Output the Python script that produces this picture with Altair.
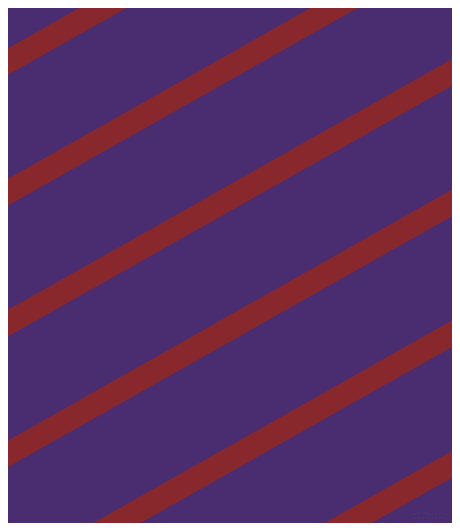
import altair as alt
import pandas as pd

# Stripe centre lines: y (px from top) where each stripe meets the left edge
stripe_y_at_left = [66.0, 196.7, 327.7, 458.3, 589.0, 719.7]
stripe_slope = 0.565          # rise per px of x (stripes go up to the right)
x_start, x_end = -40.0, 520.0

bg_color = "#4a2d71"
stripe_color = "#88282c"

rows = []
for i, y0 in enumerate(stripe_y_at_left):
    rows.append({
        "id": i,
        "x": x_start,
        "y": y0 - stripe_slope * x_start,
        "x2": x_end,
        "y2": y0 - stripe_slope * x_end,
    })
df = pd.DataFrame(rows)

xs = alt.Scale(domain=[8, 452], nice=False, zero=False)
ys = alt.Scale(domain=[8, 523], nice=False, zero=False, reverse=True)

stripes = alt.Chart(df).mark_rule(
    color=stripe_color, strokeWidth=23.2, strokeCap="butt", clip=True
).encode(
    x=alt.X("x:Q", scale=xs, axis=None),
    y=alt.Y("y:Q", scale=ys, axis=None),
    x2="x2:Q",
    y2="y2:Q",
)

wm = pd.DataFrame({"x": [449], "y": [516], "t": ["pixlis.com"]})
watermark = alt.Chart(wm).mark_text(
    fontSize=7.5, fontWeight="bold", font="Liberation Sans", color="#37205c",
    stroke="#5a4283", strokeWidth=0.3, align="right", baseline="middle"
).encode(
    x=alt.X("x:Q", scale=xs, axis=None),
    y=alt.Y("y:Q", scale=ys, axis=None),
    text="t:N",
)

chart = alt.layer(stripes, watermark).properties(
    width=444, height=515, padding=0, background=bg_color,
    autosize=alt.AutoSizeParams(type="none"),
).configure_view(stroke=None, fill=bg_color)

chart.save("out.html", embed_options={"renderer": "svg", "actions": False})
